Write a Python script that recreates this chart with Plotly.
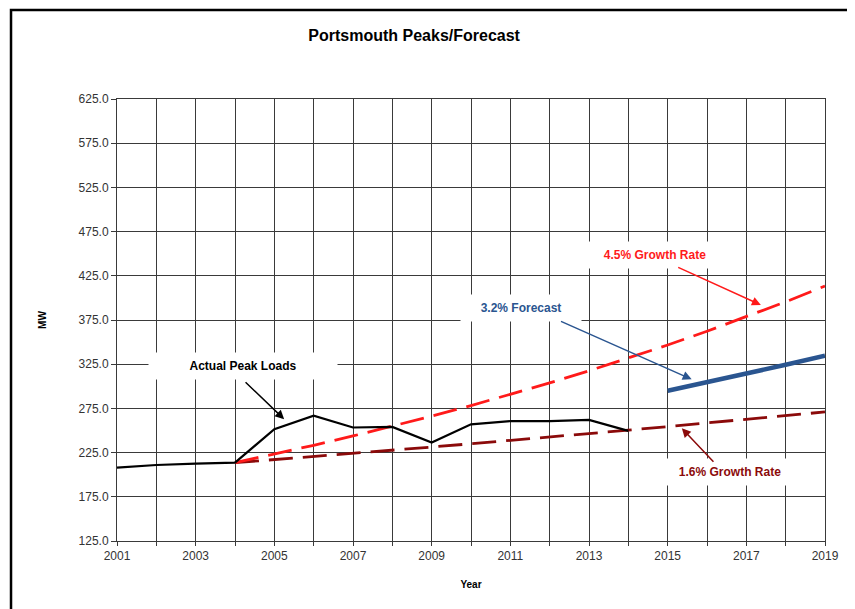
import plotly.graph_objects as go

# Data
actual_years = list(range(2001, 2015))
actual_mw = [208.0, 211.0, 212.5, 213.6, 251.5, 266.7, 253.4, 254.0, 236.4,
             257.0, 260.7, 260.5, 262.0, 249.6]

growth_years = list(range(2004, 2020))
growth_45 = [213.6, 223.2, 233.3, 243.8, 254.7, 266.2, 278.2, 290.7, 303.8,
             317.5, 331.7, 346.7, 362.3, 378.6, 395.6, 413.4]
growth_16 = [213.6, 217.0, 220.5, 224.0, 227.6, 231.3, 235.0, 238.7, 242.5,
             246.4, 250.4, 254.4, 258.4, 262.6, 266.8, 271.0]

forecast_years = list(range(2015, 2020))
forecast_32 = [295.0, 304.4, 314.2, 324.3, 334.6]

x_ticks = list(range(2001, 2020))
x_ticktext = [str(y) if y % 2 == 1 else "" for y in x_ticks]

FONT = "Liberation Sans, Arial, sans-serif"
BLUE = "#2A5590"
RED = "#FF1A1A"
DARKRED = "#8B0A0A"

fig = go.Figure()

fig.add_trace(go.Scatter(x=growth_years, y=growth_16, mode="lines", name="1.6% Growth Rate",
                         line=dict(color=DARKRED, width=2.8, dash="24px,10px")))
fig.add_trace(go.Scatter(x=growth_years, y=growth_45, mode="lines", name="4.5% Growth Rate",
                         line=dict(color=RED, width=2.8, dash="24px,10px")))
fig.add_trace(go.Scatter(x=forecast_years, y=forecast_32, mode="lines", name="3.2% Forecast",
                         line=dict(color=BLUE, width=4.5)))
fig.add_trace(go.Scatter(x=actual_years, y=actual_mw, mode="lines", name="Actual Peak Loads",
                         line=dict(color="black", width=2.2)))

# Label boxes (white background hides the grid, as in the original)
labels = [
    dict(x=2004.2, y=323, text="Actual Peak Loads", color="black", w=186, h=24),
    dict(x=2011.27, y=388.6, text="3.2% Forecast", color=BLUE, w=118, h=24),
    dict(x=2014.68, y=448.5, text="4.5% Growth Rate", color=RED, w=150, h=24),
    dict(x=2016.59, y=203, text="1.6% Growth Rate", color=DARKRED, w=150, h=24),
]
for lb in labels:
    fig.add_annotation(x=lb["x"], y=lb["y"], text="<b>%s</b>" % lb["text"], showarrow=False,
                       font=dict(family=FONT, size=12, color=lb["color"]),
                       bgcolor="white", width=lb["w"], height=lb["h"])

# Pointer arrows (head x,y ; tail ax,ay)
arrows = [
    dict(x=2005.25, y=262.7, ax=2004.23, ay=306.3, color="black"),
    dict(x=2015.61, y=307.9, ax=2012.25, ay=374.2, color=BLUE),
    dict(x=2017.37, y=392.0, ax=2015.23, ay=435.3, color=RED),
    dict(x=2015.36, y=252.5, ax=2016.2, ay=212.9, color=DARKRED),
]
for ar in arrows:
    fig.add_annotation(x=ar["x"], y=ar["y"], ax=ar["ax"], ay=ar["ay"], axref="x", ayref="y",
                       text="", showarrow=True, arrowhead=2, arrowsize=1.2, arrowwidth=1.5,
                       arrowcolor=ar["color"])

# Outer frame
fig.add_shape(type="rect", xref="paper", yref="paper", x0=-0.1497, x1=1.06, y0=-0.19, y1=1.2015,
              line=dict(color="black", width=2.5), fillcolor="rgba(0,0,0,0)", layer="below")

fig.update_layout(
    title=dict(text="<b>Portsmouth Peaks/Forecast</b>", x=0.475, xanchor="center",
               y=0.955, yanchor="middle",
               font=dict(family=FONT, size=16, color="black")),
    width=855, height=609,
    margin=dict(l=109, r=38, t=91, b=76),
    plot_bgcolor="white", paper_bgcolor="white",
    showlegend=False,
    font=dict(family=FONT, size=12, color="#404040"),
)
fig.update_xaxes(range=[2001, 2019], tickvals=x_ticks, ticktext=x_ticktext,
                 showgrid=True, gridcolor="#3a3a3a", gridwidth=1,
                 showline=True, linecolor="#3a3a3a", linewidth=1, mirror=True,
                 ticks="outside", ticklen=4, tickcolor="#3a3a3a", zeroline=False,
                 tickfont=dict(family=FONT, size=12, color="#333333"),
                 title=dict(text="<b>Year</b>", font=dict(family=FONT, size=10, color="black"),
                            standoff=18))
fig.update_yaxes(range=[125, 625], dtick=50, tick0=125, tickformat=".1f",
                 showgrid=True, gridcolor="#3a3a3a", gridwidth=1,
                 showline=True, linecolor="#3a3a3a", linewidth=1, mirror=True,
                 ticks="outside", ticklen=5, tickcolor="#3a3a3a", zeroline=False,
                 tickfont=dict(family=FONT, size=12, color="#333333"),
                 title=dict(text="<b>MW</b>", font=dict(family=FONT, size=10, color="black"),
                            standoff=30))

fig.write_html("out.html")
